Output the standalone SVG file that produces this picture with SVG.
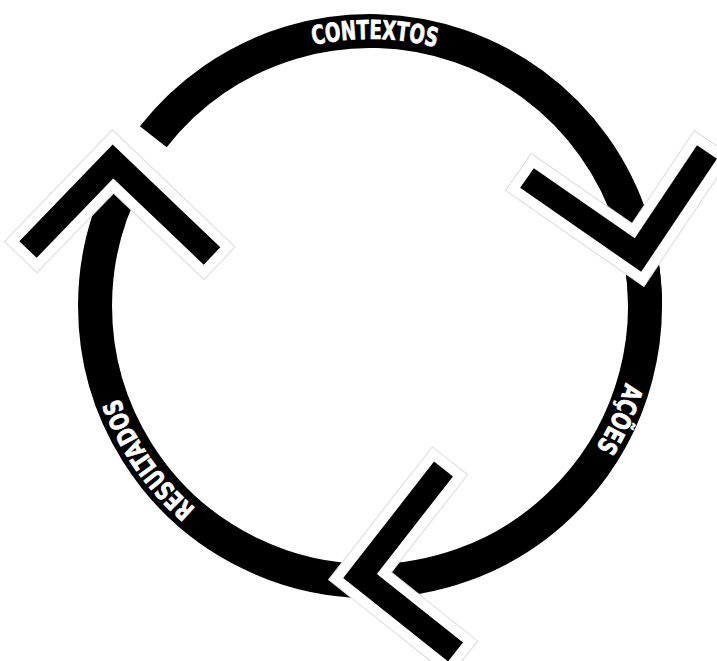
<svg xmlns="http://www.w3.org/2000/svg" xmlns:xlink="http://www.w3.org/1999/xlink" width="717" height="661" viewBox="0 0 717 661">
  <style>
    .ring { fill: none; stroke: #000; stroke-width: 34; stroke-linecap: butt; }
    .label { fill: #fff; stroke: #fff; stroke-width: 0.7; font-family: "Liberation Sans Narrow", "DejaVu Sans Condensed", "Liberation Sans", sans-serif; font-weight: bold; font-size: 26px; }
    .halo-edge { fill: none; stroke: #dcdcdc; stroke-width: 46; stroke-linejoin: miter; stroke-linecap: butt; }
    .halo { fill: none; stroke: #fff; stroke-width: 44; stroke-linejoin: miter; stroke-linecap: butt; }
    .head { fill: none; stroke: #000; stroke-width: 24; stroke-linejoin: miter; stroke-linecap: butt; }
  </style>
  <defs>
    <path id="tp-contextos" d="M104.5,278.1 A267,267 0 0 1 636.4,287.4"/>
    <path id="tp-acoes" d="M501.1,73.4 A267,267 0 0 1 281.3,557.8"/>
    <path id="tp-resultados" d="M502.3,537.9 A267,267 0 0 1 199.4,100.6"/>
  </defs>
  <rect width="717" height="661" fill="#fff"/>

  <g id="node-contextos">
    <path class="ring" d="M153.3,136.7 A275,275 0 0 1 645,306"/>
    <text class="label"><textPath xlink:href="#tp-contextos" href="#tp-contextos" startOffset="50%" text-anchor="middle" textLength="124" lengthAdjust="spacingAndGlyphs">CONTEXTOS</textPath></text>
  </g>
  <g id="node-acoes">
    <path class="ring" d="M640.8,258.3 A275,275 0 0 1 346.0,580.0"/>
    <text class="label"><textPath xlink:href="#tp-acoes" href="#tp-acoes" startOffset="50%" text-anchor="middle" textLength="72" lengthAdjust="spacingAndGlyphs">AÇÕES</textPath></text>
  </g>
  <g id="node-resultados">
    <path class="ring" d="M379.6,580.8 A275,275 0 0 1 127.2,176.9"/>
    <text class="label"><textPath xlink:href="#tp-resultados" href="#tp-resultados" startOffset="50%" text-anchor="middle" textLength="136" lengthAdjust="spacingAndGlyphs">RESULTADOS</textPath></text>
  </g>

  <g id="connectors">
    <g id="arrow-right">
      <polyline class="halo-edge" points="517.9,171.7 638,255 713.2,142.9"/>
      <polyline class="halo" points="518.8,172.3 638,255 712.6,143.7"/>
      <polyline class="head" points="527,178 638,255 707,152"/>
    </g>
    <g id="arrow-bottom">
      <polyline class="halo-edge" points="450.3,460.3 360,576 464.1,658.9"/>
      <polyline class="halo" points="449.7,461.1 360,576 463.3,658.2"/>
      <polyline class="head" points="443.5,469 360,576 455.5,652"/>
    </g>
    <g id="arrow-left">
      <polyline class="halo-edge" points="20.4,257.4 113,161.5 219.9,263.6"/>
      <polyline class="halo" points="21.05,256.7 113,161.5 219.2,262.9"/>
      <polyline class="head" points="28,249.5 113,161.5 212,256"/>
    </g>
  </g>
</svg>
